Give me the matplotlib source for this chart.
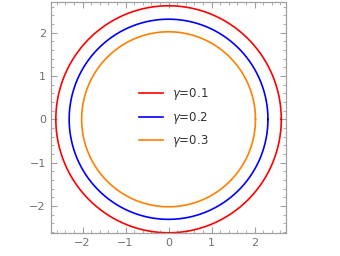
import numpy as np
import matplotlib.pyplot as plt
from matplotlib.ticker import MultipleLocator

gammas = ['0.1', '0.2', '0.3']
radii = [2.62, 2.31, 2.02]
colors = ['#ff0000', '#0000ff', '#ff8000']

fig = plt.figure(figsize=(3.4, 2.56), dpi=100)
ax = fig.add_axes([0.149, 0.089, 0.691, 0.902])

t = np.linspace(0, 2 * np.pi, 400)
for g, r, c in zip(gammas, radii, colors):
    ax.plot(r * np.cos(t), r * np.sin(t), color=c, linewidth=1.2, label=r'$\gamma$=' + g)

ax.set_xlim(-2.74, 2.72)
ax.set_ylim(-2.63, 2.70)

gray = '#a0a0a0'
for s in ax.spines.values():
    s.set_color(gray)
    s.set_linewidth(0.9)
ax.xaxis.set_major_locator(MultipleLocator(1))
ax.yaxis.set_major_locator(MultipleLocator(1))
ax.xaxis.set_minor_locator(MultipleLocator(0.2))
ax.yaxis.set_minor_locator(MultipleLocator(0.2))
ax.tick_params(which='both', direction='in', top=True, right=True, color=gray,
               labelcolor='#707070', labelsize=8)
ax.tick_params(which='major', length=4, width=0.8)
ax.tick_params(which='minor', length=2, width=0.6)
ax.xaxis.set_major_formatter(plt.FuncFormatter(lambda v, p: f'{v:.0f}'.replace('-', '\u2212')))
ax.yaxis.set_major_formatter(plt.FuncFormatter(lambda v, p: f'{v:.0f}'.replace('-', '\u2212')))

leg = ax.legend(loc='center', bbox_to_anchor=(0.525, 0.5), frameon=False, fontsize=8.5,
                handlelength=2.0, labelspacing=0.65, handletextpad=0.8)
for txt in leg.get_texts():
    txt.set_color('#333333')

fig.savefig('out.png', dpi=100)
